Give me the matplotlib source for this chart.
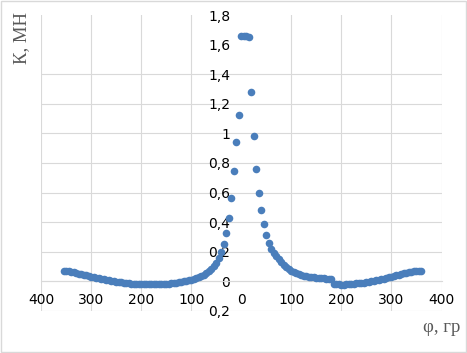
import matplotlib
matplotlib.use("Agg")
import matplotlib.pyplot as plt
from matplotlib.patches import Rectangle

# left branch: angle (deg) and force K (MN)
phi_left = [-355, -350, -345, -340, -335, -330, -325, -320, -315, -310,
            -305, -300, -295, -290, -285, -280, -275, -270, -265, -260,
            -255, -250, -245, -240, -235, -230, -225, -220, -215, -210,
            -205, -200, -195, -190, -185, -180, -175, -170, -165, -160,
            -155, -150, -145, -140, -135, -130, -125, -120, -115, -110,
            -105, -100, -95, -90, -85, -80, -75, -70, -65, -60,
            -55, -50, -45, -40, -35, -30, -25, -20, -15, -10, -5]
k_left = [0.072, 0.071, 0.068, 0.064, 0.061, 0.057, 0.053, 0.049, 0.045, 0.041,
          0.037, 0.033, 0.029, 0.025, 0.021, 0.017, 0.013, 0.010, 0.007, 0.004,
          0.001, -0.002, -0.005, -0.007, -0.009, -0.011, -0.013, -0.015, -0.016, -0.017,
          -0.018, -0.019, -0.020, -0.020, -0.020, -0.020, -0.020, -0.019, -0.019, -0.018,
          -0.017, -0.016, -0.015, -0.013, -0.011, -0.009, -0.006, -0.003, 0.000, 0.003,
          0.007, 0.011, 0.016, 0.021, 0.027, 0.035, 0.044, 0.055, 0.068, 0.083,
          0.102, 0.126, 0.158, 0.200, 0.255, 0.326, 0.427, 0.564, 0.743, 0.945, 1.124]

# right branch
phi_right = [0, 5, 10, 15, 20, 25, 30, 35, 40, 45,
             50, 55, 60, 65, 70, 75, 80, 85, 90, 95,
             100, 105, 110, 115, 120, 125, 130, 135, 140, 145,
             150, 155, 160, 165, 170, 175, 180, 185, 190, 195,
             200, 205, 210, 215, 220, 225, 230, 235, 240, 245,
             250, 255, 260, 265, 270, 275, 280, 285, 290, 295,
             300, 305, 310, 315, 320, 325, 330, 335, 340, 345,
             350, 355, 360]
k_right = [1.660, 1.658, 1.655, 1.652, 1.280, 0.980, 0.757, 0.597, 0.480, 0.385,
           0.315, 0.259, 0.216, 0.190, 0.170, 0.148, 0.128, 0.110, 0.095, 0.083,
           0.072, 0.063, 0.055, 0.048, 0.043, 0.039, 0.035, 0.032, 0.029, 0.027,
           0.025, 0.023, 0.022, 0.020, 0.019, 0.017, 0.015, -0.016, -0.018, -0.020,
           -0.021, -0.021, -0.020, -0.019, -0.018, -0.016, -0.014, -0.012, -0.010, -0.008,
           -0.006, -0.003, 0.000, 0.003, 0.007, 0.010, 0.014, 0.018, 0.022, 0.027,
           0.031, 0.036, 0.041, 0.046, 0.051, 0.055, 0.059, 0.063, 0.066, 0.068,
           0.070, 0.071, 0.071]

x_ticks = [-400, -300, -200, -100, 0, 100, 200, 300, 400]
x_labels = ['400', '300', '200', '100', '0', '100', '200', '300', '400']
y_ticks = [-0.2, 0, 0.2, 0.4, 0.6, 0.8, 1.0, 1.2, 1.4, 1.6, 1.8]
y_labels = ['0,2', '0', '0,2', '0,4', '0,6', '0,8', '1', '1,2', '1,4', '1,6', '1,8']

grid_c = '#d9d9d9'
text_c = '#595959'
blue = '#4a7ebb'

fig = plt.figure(figsize=(4.67, 3.53), dpi=100)
ax = fig.add_axes([0.0878, 0.119, 0.8576, 0.8385])

ax.scatter(phi_left + phi_right, k_left + k_right, s=30, color=blue,
           linewidths=0, zorder=3, clip_on=False)

ax.set_xlim(-400, 400)
ax.set_ylim(-0.2, 1.8)
ax.set_xticks(x_ticks)
ax.set_xticklabels(x_labels)
ax.set_yticks(y_ticks)
ax.set_yticklabels(y_labels)

for lab in ax.get_xticklabels() + ax.get_yticklabels():
    lab.set_family('Liberation Sans')
    lab.set_fontsize(8.5)
    lab.set_color(text_c)
ax.tick_params(axis='x', length=0, pad=8)
ax.tick_params(axis='y', length=0, pad=8)

# axes cross at zero, like excel
ax.spines['left'].set_position(('data', 0))
ax.spines['bottom'].set_position(('data', 0))
ax.spines['left'].set_visible(False)
ax.spines['bottom'].set_color(grid_c)
ax.spines['bottom'].set_linewidth(0.8)
ax.spines['top'].set_visible(False)
ax.spines['right'].set_visible(False)

# gridlines (the reference has none at x=0 and above 1.4)
ax.grid(True, color=grid_c, linewidth=0.8, zorder=0)
ax.set_axisbelow(True)
for t, v in zip(ax.xaxis.get_major_ticks(), x_ticks):
    if v == 0:
        t.gridline.set_visible(False)
for t, v in zip(ax.yaxis.get_major_ticks(), y_ticks):
    if v > 1.5:
        t.gridline.set_visible(False)

fig.text(22 / 467, 1 - 38 / 353, 'К, МН', rotation=90, ha='center', va='center',
         family='Liberation Serif', fontsize=13.5, color=text_c)
fig.text(442 / 467, 1 - 328 / 353, 'φ, гр', ha='center', va='center',
         family='Liberation Serif', fontsize=13.5, color=text_c)

fig.patches.append(Rectangle((0.002, 0.003), 0.995, 0.994, transform=fig.transFigure,
                             fill=False, edgecolor=grid_c, linewidth=1))

fig.savefig('out.png', dpi=100)
